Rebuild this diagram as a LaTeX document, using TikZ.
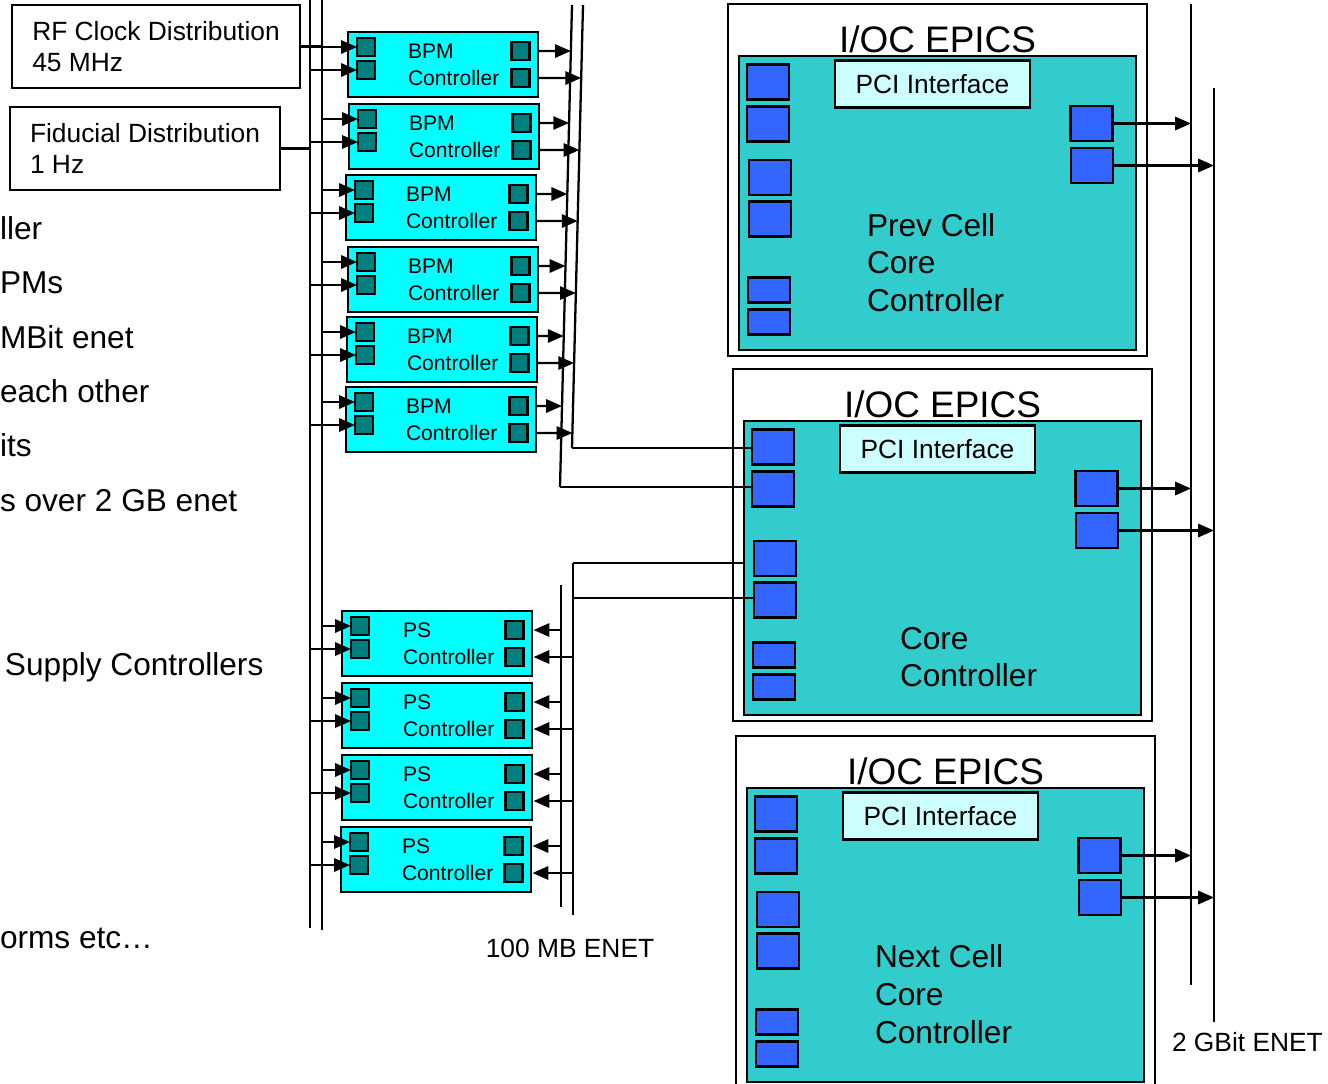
\documentclass[tikz,border=0pt]{standalone}
\usepackage{fontspec}
\setmainfont{Liberation Sans}
\usetikzlibrary{arrows.meta,calc}

\definecolor{ctrlcyan}{HTML}{00FFFF}
\definecolor{portteal}{HTML}{007F7F}
\definecolor{iocteal}{HTML}{33CCCC}
\definecolor{iocblue}{HTML}{3366FF}
\definecolor{pcifill}{HTML}{CCFFFF}

\newcommand{\pxu}{0.02cm}

\tikzset{
  every node/.style={inner sep=0pt, outer sep=0pt},
  bus/.style={line width=1.3pt},
  wire/.style={line width=1.4pt},
  feed/.style={line width=1.4pt, -{Triangle[length=9pt,width=7.5pt]}},
  infobox/.style={draw, line width=1.2pt, minimum height=83*\pxu, align=left,
    font=\fontsize{15}{18}\selectfont},
  ctrlbox/.style={draw, line width=1.4pt, fill=ctrlcyan, minimum width=190*\pxu, minimum height=65*\pxu},
  ctrlport/.style={draw, line width=1.4pt, fill=portteal, minimum width=18*\pxu, minimum height=18*\pxu},
  ctrltext/.style={anchor=west, align=left, font=\fontsize{12}{15.3}\selectfont},
  iocframe/.style={draw, line width=1.2pt, fill=white, minimum width=419*\pxu, minimum height=352*\pxu},
  iocboard/.style={draw, line width=1.2pt, fill=iocteal, minimum width=397*\pxu, minimum height=294*\pxu},
  ioctitle/.style={font=\fontsize{21}{25}\selectfont},
  pcibox/.style={draw, line width=1.4pt, fill=pcifill, minimum width=195*\pxu, minimum height=47*\pxu,
    font=\fontsize{15}{18}\selectfont},
  iocport/.style={draw, line width=1.4pt, fill=iocblue, minimum width=42*\pxu, minimum height=35*\pxu},
  iocslot/.style={iocport, minimum height=25*\pxu},
  iocbody/.style={anchor=west, align=left, font=\fontsize{18}{21.5}\selectfont},
  notetext/.style={anchor=base west, font=\fontsize{18}{21.5}\selectfont},
  buslabel/.style={font=\fontsize{15}{18}\selectfont},
}

\begin{document}
\begin{tikzpicture}[x=\pxu, y=-\pxu]
\useasboundingbox (0,0) rectangle (1328,1083);
\clip (0,0) rectangle (1328,1083);

% timing buses, BPM/PS enet buses, 2 GBit enet
\coordinate (busA-top) at (310,0);
\coordinate (busA-bot) at (310,928);
\coordinate (busB-top) at (322,0);
\coordinate (busB-bot) at (322,930);
\coordinate (bpmA-top) at (572,5);
\coordinate (bpmA-bot) at (560,487);
\coordinate (bpmB-top) at (583,5);
\coordinate (bpmB-bot) at (572,448);
\coordinate (psA-top) at (561,585);
\coordinate (psA-bot) at (561,907);
\coordinate (psB-top) at (573,563);
\coordinate (psB-bot) at (573,915);
\coordinate (psB-tap) at (573,598);
\coordinate (gbA-top) at (1191,4);
\coordinate (gbA-bot) at (1191,985);
\coordinate (gbB-top) at (1214,88);
\coordinate (gbB-bot) at (1214,1022);
\foreach \b in {busA,busB,bpmA,bpmB,psA,psB,gbA,gbB}
  \draw[bus] (\b-top) -- (\b-bot);

\node[infobox, minimum width=288*\pxu, anchor=north west] (rf) at (12,5) {RF Clock Distribution\\45 MHz};
\node[infobox, minimum width=270*\pxu, anchor=north west] (fid) at (10,107) {Fiducial Distribution\\1 Hz};
\draw[wire] (rf.east) -- (busB-top |- rf.east);
\draw[wire] (fid.east) -- (busA-top |- fid.east);

\foreach \x/\y/\t [count=\k] in {0/228/ller, 0/282/PMs, 0/337/MBit enet, 0/391/each other, 0/445/its,
    0/500/s over 2 GB enet, 5/664/Supply Controllers, 0/937/orms etc…}
  \node[notetext] (note\k) at (\x,\y+11) {\t};

\foreach \i/\xl/\y in {1/348/32, 2/349/104, 3/346/175, 4/348/247, 5/347/317, 6/346/387}{
  \node[ctrlbox] (bpm\i) at (\xl+95,\y+32.5) {};
  \node[ctrltext] at (\xl+60,\y+32.5) {BPM\\Controller};
  \node[ctrlport] (bpm\i-l1) at (\xl+18,\y+15) {};
  \node[ctrlport] (bpm\i-l2) at (\xl+18,\y+38) {};
  \node[ctrlport] (bpm\i-r1) at (\xl+172.5,\y+19) {};
  \node[ctrlport] (bpm\i-r2) at (\xl+172.5,\y+46) {};
  \draw[feed] (busB-top |- bpm\i-l1) -- (bpm\i-l1.west);
  \draw[feed] (busA-top |- bpm\i-l2) -- (bpm\i-l2.west);
  \draw[feed] (bpm\i-r1 -| bpm\i.east) -- ($(bpmA-top)!{(\y+19-5)/482}!(bpmA-bot)$);
  \draw[feed] (bpm\i-r2 -| bpm\i.east) -- ($(bpmB-top)!{(\y+46-5)/443}!(bpmB-bot)$);
}

\foreach \i/\xl/\y in {1/342/611, 2/342/683, 3/342/755, 4/341/827}{
  \node[ctrlbox] (ps\i) at (\xl+95,\y+32.5) {};
  \node[ctrltext] at (\xl+61,\y+32.5) {PS\\Controller};
  \node[ctrlport] (ps\i-l1) at (\xl+18,\y+15) {};
  \node[ctrlport] (ps\i-l2) at (\xl+18,\y+38) {};
  \node[ctrlport] (ps\i-r1) at (\xl+172.5,\y+19) {};
  \node[ctrlport] (ps\i-r2) at (\xl+172.5,\y+46) {};
  \draw[feed] (busB-top |- ps\i-l1) -- (ps\i-l1.west);
  \draw[feed] (busA-top |- ps\i-l2) -- (ps\i-l2.west);
  \draw[feed, shorten >=0.2cm] (psA-top |- ps\i-r1) -- (ps\i-r1.east);
  \draw[feed, shorten >=0.2cm] (psB-top |- ps\i-r2) -- (ps\i-r2.east);
}

\foreach \n/\ox/\oy/\dy/\tx/\ty/\txt in {prev/728/4/0/139/258.5/{Prev Cell\\Core\\Controller},
    core/733/369/16/167/288/{Core\\Controller}, next/736/736/0/139/258/{Next Cell\\Core\\Controller}}{
  \node[iocframe] (\n-out) at (\ox+209.5,\oy+176) {};
  \node[iocboard] (\n-in) at (\ox+209.5,\oy+199) {};
  \node[ioctitle] at (\ox+209.5,\oy+35) {I/OC EPICS};
  \node[pcibox] (\n-pci) at (\ox+204.5,\oy+80) {PCI Interface};
  \node[iocport] (\n-p1) at (\ox+40,\oy+78) {};
  \node[iocport] (\n-p2) at (\ox+40,\oy+120) {};
  \node[iocport] (\n-p3) at (\ox+42,\oy+\dy+173.5) {};
  \node[iocport] (\n-p4) at (\ox+42,\oy+\dy+215) {};
  \node[iocslot] (\n-p5) at (\ox+41,\oy+286) {};
  \node[iocslot] (\n-p6) at (\ox+41,\oy+318) {};
  \node[iocport] (\n-r1) at (\ox+363.5,\oy+119.5) {};
  \node[iocport] (\n-r2) at (\ox+364,\oy+161.5) {};
  \node[iocbody] at (\ox+\tx,\oy+\ty) {\txt};
  \draw[feed] (\n-r1.east) -- (gbA-top |- \n-r1);
  \draw[feed] (\n-r2.east) -- (gbB-top |- \n-r2);
}

\draw[wire] (bpmB-bot) -- (bpmB-bot -| core-p1.west);
\draw[wire] (bpmA-bot) -- (bpmA-bot -| core-p2.west);
\draw[wire] (psB-top) -- (psB-top -| core-in.west);
\draw[wire] (psB-tap) -- (psB-tap -| core-p4.west);

\node[buslabel, anchor=base] (mblabel) at (570,957) {100 MB ENET};
\node[buslabel, anchor=base west] (gblabel) at (1172,1051) {2 GBit ENET};
\end{tikzpicture}
\end{document}
